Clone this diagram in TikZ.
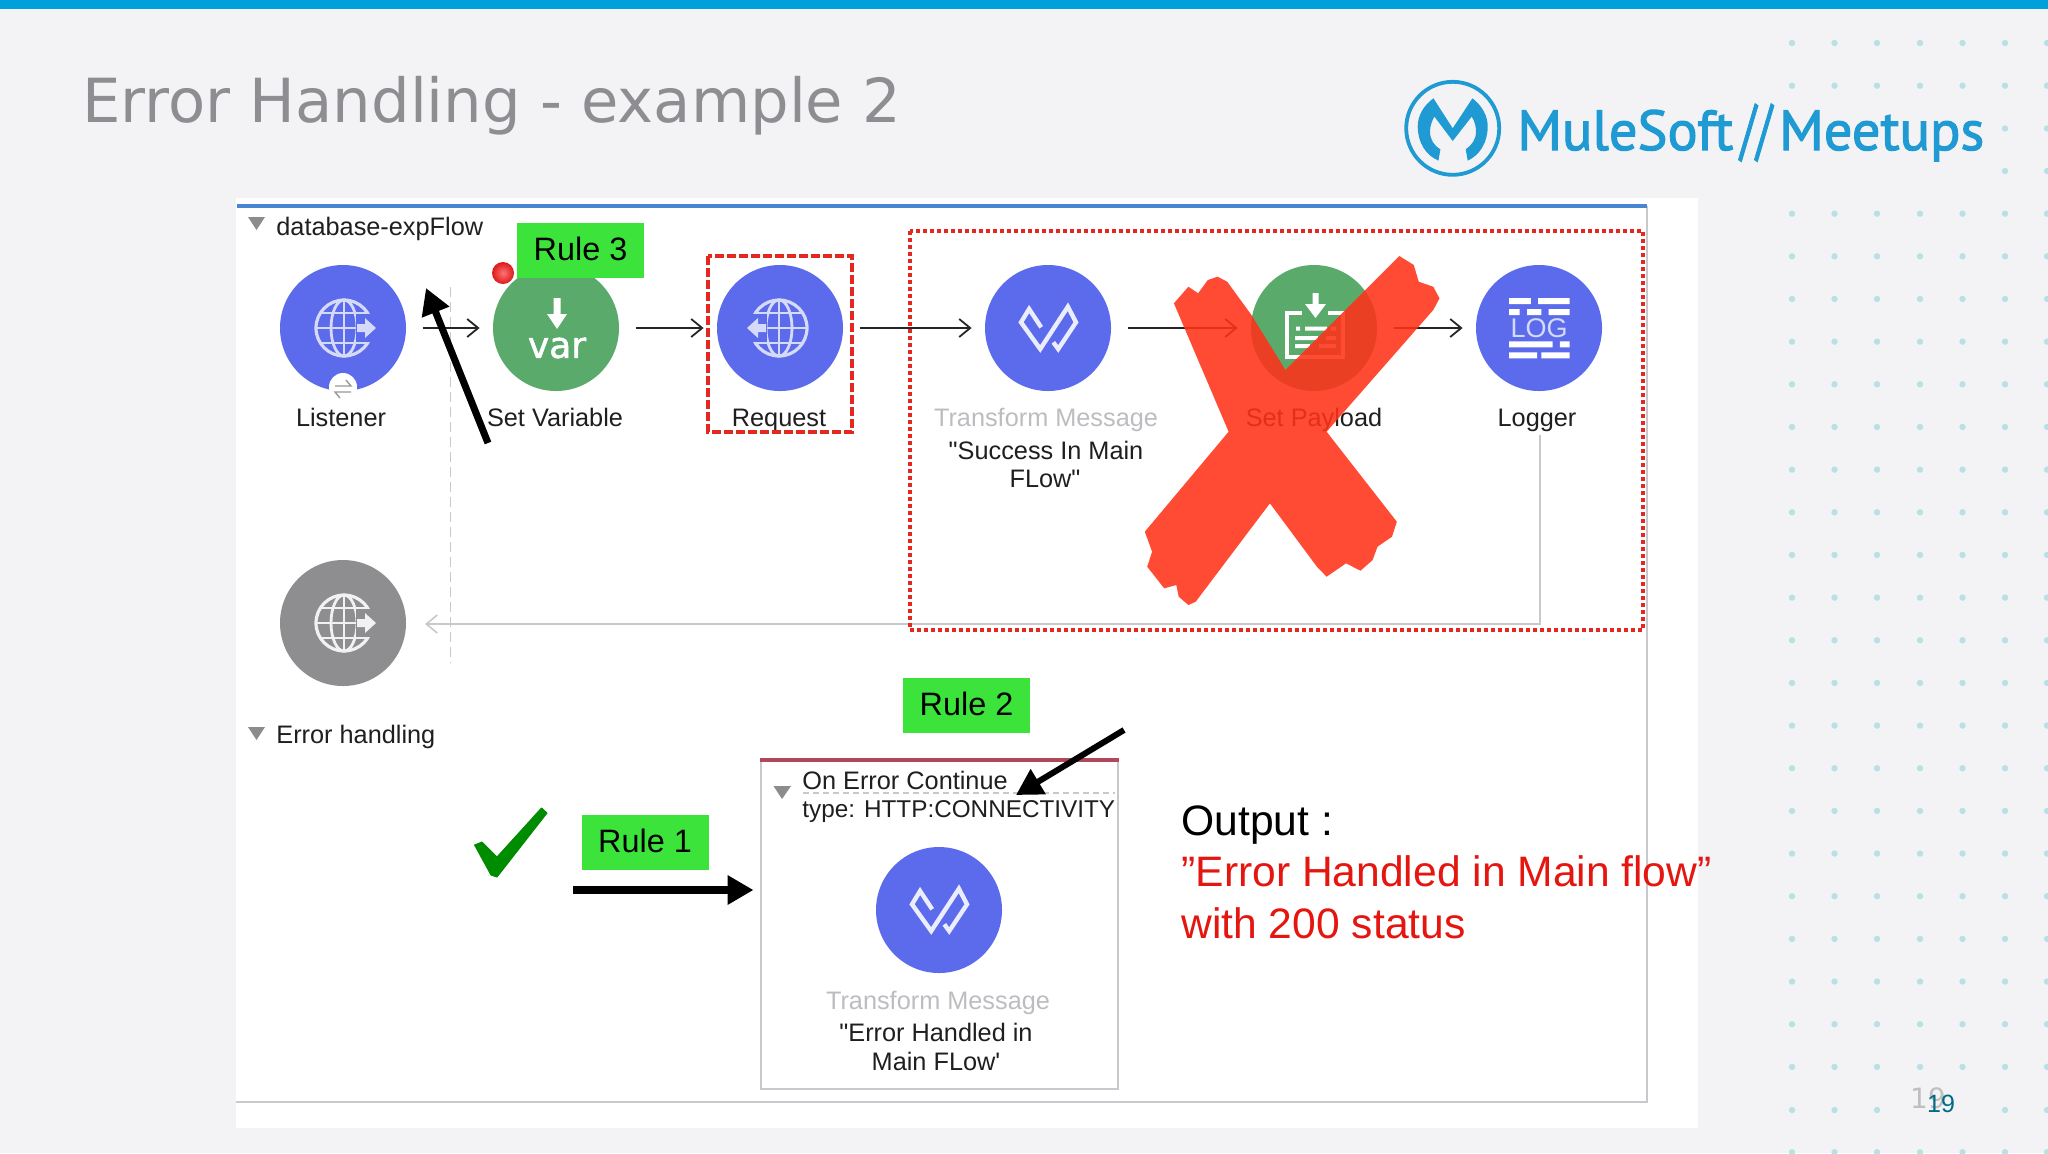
\documentclass[tikz,border=0pt]{standalone}
\usepackage{fontspec}
\usepackage{graphicx}
\setmainfont{Liberation Sans}
\newfontfamily\plainfont{Liberation Sans}
\newfontfamily\titlefont{DejaVu Sans}
\newfontfamily\varfont[RawFeature={embolden=1.5}]{DejaVu Sans}
\newfontfamily\logofont[RawFeature={embolden=2}]{PT Sans}
\usetikzlibrary{arrows.meta}
\definecolor{pagebg}{HTML}{F3F3F5}
\definecolor{topbar}{HTML}{00A0DC}
\definecolor{titlegray}{HTML}{8E8E92}
\definecolor{dotcol}{HTML}{B9E0E6}
\definecolor{mule}{HTML}{1F9AD3}
\definecolor{flowblue}{HTML}{4A86CF}
\definecolor{frame}{HTML}{C9C9CD}
\definecolor{bluec}{HTML}{5B6BEB}
\definecolor{greenc}{HTML}{5AAA6B}
\definecolor{grayc}{HTML}{8E8E90}
\definecolor{iconlav}{HTML}{D5DAF8}
\definecolor{redbox}{HTML}{E5281F}
\definecolor{ruleg}{HTML}{3BE33B}
\definecolor{xred}{HTML}{FF3118}
\definecolor{checkg}{HTML}{008C00}
\definecolor{errbar}{HTML}{B0485A}
\definecolor{mutetext}{HTML}{BDBDC1}
\definecolor{outred}{HTML}{E5150F}
\definecolor{teal19}{HTML}{006A87}
\tikzset{
  x=0.5pt,y=-0.5pt,
  flowcirc/.style={circle,minimum size=63pt,inner sep=0pt,fill=#1},
  lab/.style={inner sep=0pt,font=\plainfont\fontsize{12.65pt}{14pt}\selectfont,text=black!88,text height=9.1pt,text depth=0pt},
  mutelab/.style={lab,text=mutetext},
  hdr/.style={lab,anchor=west},
  rulebox/.style={fill=ruleg,minimum width=63.5pt,minimum height=27.5pt,inner sep=0pt,text=black,font=\fontsize{16.2pt}{18pt}\selectfont,text height=11.7pt,text depth=1.5pt},
  conn/.style={draw=black!85,line width=1pt,-{Straight Barb[length=5.5pt,width=9pt,line width=0.9pt]},shorten <=8.25pt,shorten >=6.5pt},
  bigarrow/.style={draw=black,line width=#1,-{Triangle[length=13pt,width=14pt]}},
  triangleicon/.style={fill=black!45},
  redout/.style={inner sep=0pt,anchor=west,font=\fontsize{21.3pt}{24pt}\selectfont,text height=15.3pt,text depth=0pt}
}
\newcommand{\globeicon}[4]{%
 \begin{scope}[shift={(#1,#2)},xscale=#3]
  \draw[#4,line width=1.6pt] (0,0) circle (28);
  \draw[#4,line width=1.4pt] (0,0) ellipse [x radius=13,y radius=28];
  \draw[#4,line width=1.4pt] (0,-28) -- (0,28) (-28,0) -- (28,0) (-23,-15) -- (23,-15) (-23,15) -- (23,15);
 \end{scope}}
\newcommand{\globecut}[4]{%
 \begin{scope}[shift={(#1,#2)},xscale=#3]
  \fill[#4] (12,-14) rectangle (36,14);
 \end{scope}}
\newcommand{\globearrow}[4]{%
 \begin{scope}[shift={(#1,#2)},xscale=#3]
  \fill[#4] (13,-4) -- (21,-4) -- (21,-10) -- (32,0) -- (21,10) -- (21,4) -- (13,4) -- cycle;
 \end{scope}}
\newcommand{\transformicon}[2]{%
 \draw[white!88!bluec,line width=2.2pt,miter limit=10,shift={(#1,#2)}]
  (-6.8,-0.7) -- (-18.9,-19) -- (-27,-5.7) -- (-7.8,21) -- (19.9,-21.3) -- (28,-5.7) -- (10.2,21) -- (5.3,14.3);}
\begin{document}
\begin{tikzpicture}
\useasboundingbox (0,0) rectangle (2048,1153);
\fill[pagebg] (0,0) rectangle (2048,1153);
\fill[topbar] (0,0) rectangle (2048,9);
% dots
\foreach \k in {0,1,4,5,...,24,26} {
  \pgfmathsetmacro{\r}{43+42.66*\k}
  \foreach \c in {1792,1834.5,1877,1920,1962.5,2005,2047}
    \fill[dotcol] (\c,\r) circle (3.2);
}
\foreach \c in {1792,1834.5,1877,2005,2047} \fill[dotcol] (\c,1110) circle (3.2);
\foreach \c in {2005,2047} { \fill[dotcol] (\c,128.5) circle (3.2); \fill[dotcol] (\c,171) circle (3.2); }
% title
\node[anchor=west,inner sep=0pt,text=titlegray,font=\titlefont\fontsize{30.4pt}{34pt}\selectfont] (title) at (82,106) {Error Handling - example 2};
% logo
\begin{scope}[shift={(1452.7,128.3)}]
 \draw[mule,line width=1.9pt] (0,0) circle (46.5);
 \fill[mule] (-19.3,-30) -- (0,0) -- (19.7,-30) .. controls (30,-22) and (35,-12) .. (35,-1.7) .. controls (35,14) and (27,27) .. (15,32.3)
   -- (13,21) .. controls (19,17) and (23.3,11) .. (23.3,3.3) .. controls (23.3,-2) and (22,-7) .. (19,-11.7) -- (0,12.7) -- (-18.3,-11.7)
   .. controls (-21,-7) and (-22.7,-2) .. (-22.7,3.3) .. controls (-22.7,11) and (-19,17) .. (-12.3,21) -- (-14.3,32.3)
   .. controls (-27,27) and (-35,14) .. (-35,-1.7) .. controls (-35,-12) and (-30,-22) .. (-19.3,-30) -- cycle;
\end{scope}
\node[anchor=base west,inner sep=0pt,text=mule,font=\logofont\fontsize{28.2pt}{32pt}\selectfont] (logotxt) at (1517,150) {MuleSoft\kern3.5pt\raisebox{-1pt}{\scalebox{.8}[1.2]{//}}\kern3.5pt Meetups};
% panel
\fill[white] (236,198) rectangle (1698,1128);
\draw[frame,line width=1pt] (1647,206) -- (1647,1102) -- (236,1102);
\draw[flowblue,line width=2pt] (237,205.5) -- (1647,205.5);
% headers
\fill[triangleicon] (248,217) -- (265,217) -- (256.5,230) -- cycle;
\fill[triangleicon] (248,727) -- (265,727) -- (256.5,740) -- cycle;
\node[hdr] (flowname) at (276,226) {database-expFlow};
\node[hdr] (errname) at (276,734.5) {Error handling};
% return path
\coordinate (retstart) at (1540,435);
\coordinate (retcorner) at (1540,624);
\coordinate (retend) at (425,624);
\draw[frame,line width=1pt,-{Straight Barb[length=5.5pt,width=9pt,line width=0.8pt]}] (retstart) -- (retcorner) -- (retend);
\coordinate (dashtop) at (450.5,287);
\coordinate (dashbot) at (450.5,663);
\draw[frame,line width=0.8pt,dash pattern=on 5pt off 2.5pt] (dashtop) -- (dashbot);
% red dot
\shade[inner color=red!55!white,outer color=red!85!black!90!white] (503,273) circle (11);
% flow circles
\node[flowcirc=bluec] (listener) at (343,328) {};
\node[flowcirc=greenc] (setvar) at (556,328) {};
\node[flowcirc=bluec] (request) at (780,328) {};
\node[flowcirc=bluec] (transform) at (1048,328) {};
\node[flowcirc=greenc] (setpayload) at (1314,328) {};
\node[flowcirc=bluec] (logger) at (1539,328) {};
\node[flowcirc=grayc] (outglobe) at (343,623) {};
\node[flowcirc=bluec] (errtransform) at (939,910) {};
% globe icons
\globeicon{344}{328}{1}{iconlav}\globecut{344}{328}{1}{bluec}\globearrow{344}{328}{1}{iconlav}
\globeicon{779}{328}{-1}{iconlav}\globecut{779}{328}{-1}{bluec}\globearrow{779}{328}{-1}{iconlav}
\globeicon{344}{623}{1}{white!88!grayc}\globecut{344}{623}{1}{grayc}\globearrow{344}{623}{1}{white!88!grayc}
% badge
\fill[white] (343,387) circle (14);
\draw[black!40,line width=0.7pt] (335,386) -- (351,386) -- (346,380) (351,392) -- (335,392) -- (340,398);
% var icon
\fill[white] (553.5,298) -- (560.5,298) -- (560.5,314) -- (567,314) -- (557,329) -- (547,314) -- (553.5,314) -- cycle;
\node[inner sep=0pt,text=white,font=\varfont\fontsize{18pt}{20pt}\selectfont] (vartxt) at (557,348) {var};
% transform icons
\transformicon{1048}{328}
\transformicon{939}{910}
% payload icon
\begin{scope}[shift={(1314,328)}]
 \draw[white,line width=2pt] (-12,-15) -- (-27,-15) -- (-27,29) -- (29,29) -- (29,-15) -- (14,-15);
 \fill[white] (-1.5,-35) -- (4.5,-35) -- (4.5,-24) -- (12,-24) -- (1.5,-10) -- (-9,-24) -- (-1.5,-24) -- cycle;
 \fill[white] (-18,-1.5) rectangle (-14,2.5) (-9,-1.5) rectangle (13,2.5) (17,-1.5) rectangle (22,2.5)
   (-19,8) rectangle (4,12) (12,8) rectangle (22,12) (-19,16) rectangle (-4,20) (5,16) rectangle (22,20);
\end{scope}
% logger icon
\begin{scope}[shift={(1539,328)}]
 \fill[white] (-30,-30) rectangle (-8.2,-24) (-1,-30) rectangle (30.5,-24)
   (-30,-19) rectangle (-19.4,-13) (-12,-19) rectangle (2.4,-13) (9.7,-19) rectangle (30.5,-13)
   (-30,13.3) rectangle (13.6,19.3) (20.8,13.3) rectangle (30.5,19.3)
   (-30,24.3) rectangle (-2,30.3) (2.4,24.3) rectangle (30.5,30.3);
 \node[inner sep=0pt,text=iconlav,font=\fontsize{13.5pt}{14pt}\selectfont] (logtxt) at (0,0) {LOG};
\end{scope}
% labels
\node[lab] (l1) at (341,417) {Listener};
\node[lab] (l2) at (555,417) {Set Variable};
\node[lab] (l3) at (779,417) {Request};
\node[mutelab] (l4) at (1046,417) {Transform Message};
\node[lab] (l5) at (1314,417) {Set Payload};
\node[lab] (l6) at (1537,417) {Logger};
\node[lab] (l4a) at (1046,450) {"Success In Main};
\node[lab] (l4b) at (1045,478) {FLow"};
% connectors
\draw[conn] (listener.east) -- (setvar.west);
\draw[conn] (setvar.east) -- (request.west);
\draw[conn] (request.east) -- (transform.west);
\draw[conn] (transform.east) -- (setpayload.west);
\draw[conn] (setpayload.east) -- (logger.west);
% red boxes
\draw[redbox,line width=2pt,dash pattern=on 4.5pt off 1.5pt] (708,256) rectangle (852,432);
\draw[redbox,line width=1.9pt,dash pattern=on 2pt off 1.5pt] (910,231) rectangle (1643,630);
% red X
\fill[xred,opacity=0.88]
 (1173.9,303.3) -- (1188.4,286.7) -- (1198.1,293.3) -- (1207.8,280) -- (1217.5,276.7) -- (1227.2,281.7) -- (1251.4,315) -- (1285.4,370)
 -- (1399.3,256) -- (1413.8,265) -- (1418.7,281.7) -- (1433.2,286.7) -- (1439.5,298.3) -- (1433.2,310) -- (1326.6,431.7)
 -- (1396.8,521.7) -- (1392,536.7) -- (1377.5,546.7) -- (1372.6,560) -- (1360.5,570.7) -- (1346,563.3) -- (1326.6,576.7) -- (1316.9,566.7)
 -- (1269.9,503.3) -- (1195.7,601.7) -- (1188.4,605) -- (1178.7,596.7) -- (1176.3,585) -- (1164.2,588.3) -- (1147.2,566.7) -- (1152.1,551.7) -- (1144.8,531.7)
 -- (1228.6,431.7) -- cycle;
% error box
\draw[frame,line width=1.2pt] (761,760) -- (761,1089) -- (1118,1089) -- (1118,760);
\draw[errbar,line width=2pt] (760,760) -- (1119,760);
\fill[triangleicon] (773.5,786) -- (791,786) -- (782,799) -- cycle;
\draw[frame,line width=0.6pt,dash pattern=on 3pt off 2pt] (803,793) -- (1115,793);
\node[lab,anchor=west] (e1) at (802,780.5) {On Error Continue};
\node[lab,anchor=west,font=\plainfont\fontsize{12.15pt}{14pt}\selectfont] (e2) at (802,808.5) {type: HTTP:CONNECTIVITY};
\node[mutelab] (e3) at (938,1000) {Transform Message};
\node[lab] (e4) at (936,1032) {"Error Handled in};
\node[lab] (e5) at (936,1061) {Main FLow'};
% rule labels
\node[rulebox] (rule3) at (580.5,250) {Rule 3};
\node[rulebox] (rule2) at (966.5,705.5) {Rule 2};
\node[rulebox] (rule1) at (645,842.5) {Rule 1};
% black arrows
\coordinate (a3s) at (488,443);
\coordinate (a3e) at (426,288);
\draw[bigarrow=3.5pt] (a3s) -- (a3e);
\coordinate (a2s) at (1124,730);
\coordinate (a2e) at (1016,795);
\draw[bigarrow=3pt] (a2s) -- (a2e);
\coordinate (a1s) at (573,890);
\coordinate (a1e) at (753.5,890);
\draw[bigarrow=4.2pt] (a1s) -- (a1e);
% check mark
\fill[checkg,draw=checkg,line width=0.5pt,line join=round] (474.6,845) -- (482,842) -- (497,857) -- (541.5,808) -- (547,813) -- (497,877) -- (491,875) -- cycle;
% output
\node[redout] (o1) at (1181,820) {Output :};
\node[redout,text=outred] (o2) at (1181,871) {”Error Handled in Main flow”};
\node[redout,text=outred] (o3) at (1181,923) {with 200 status};
% page numbers
\node[inner sep=0pt,text=black!25,font=\titlefont\fontsize{14pt}{16pt}\selectfont] (pg1) at (1928,1098) {19};
\node[inner sep=0pt,text=teal19,font=\fontsize{12.5pt}{14pt}\selectfont] (pg2) at (1941,1104) {19};
\end{tikzpicture}
\end{document}
